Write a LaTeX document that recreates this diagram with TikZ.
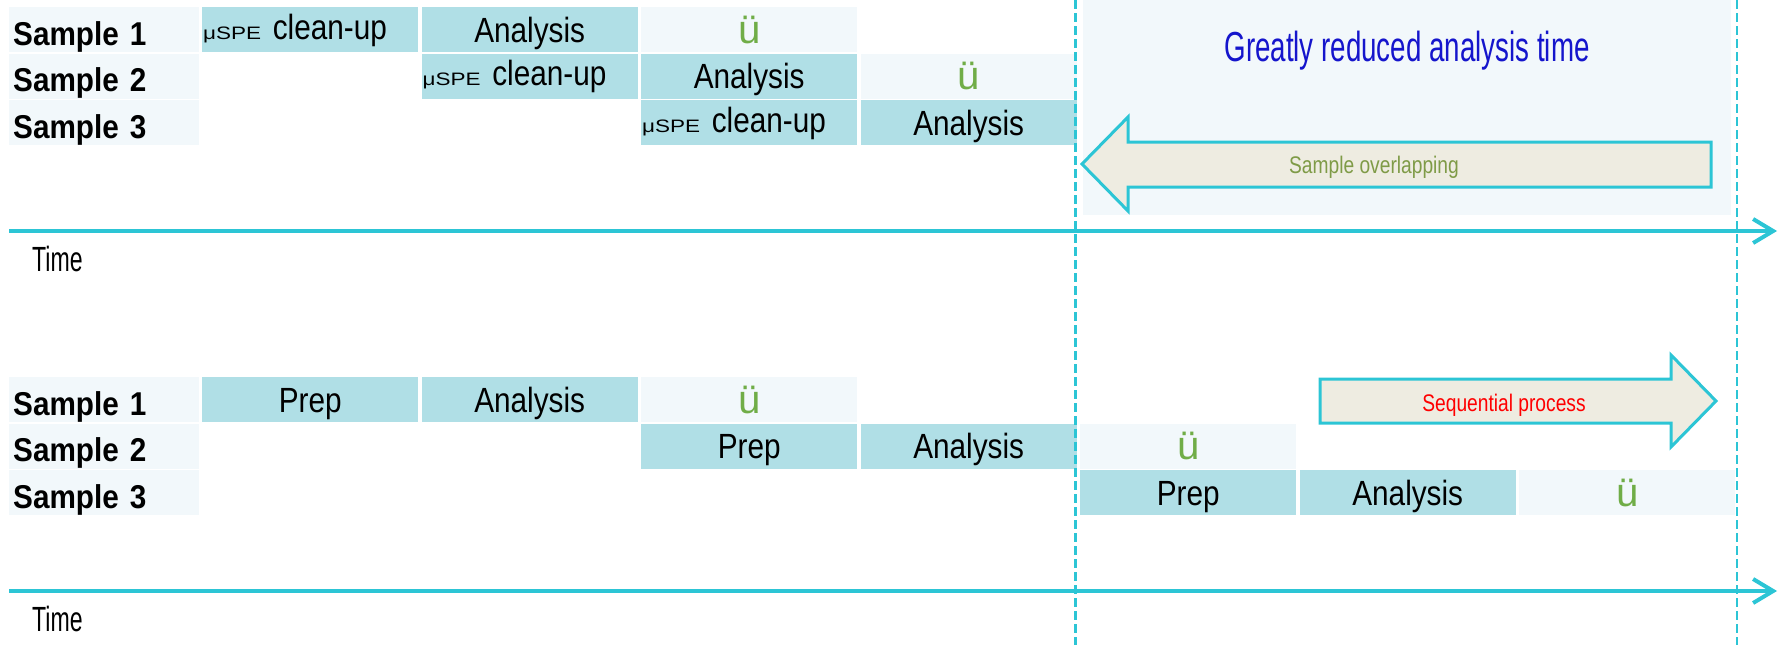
\documentclass[tikz,border=0pt]{standalone}
\usepackage{fontspec}
\setmainfont{Liberation Sans}
\newfontfamily\namefont{Liberation Sans}[FakeStretch=0.9]
\newfontfamily\cellfont{Liberation Sans}[FakeStretch=0.85]
\newfontfamily\narrowfont{Liberation Sans}[FakeStretch=0.8]
\newfontfamily\tightfont{Liberation Sans}[FakeStretch=0.66]
\newfontfamily\spefont{Liberation Sans}[FakeStretch=1.25]
\usetikzlibrary{arrows.meta}
\definecolor{cellblue}{HTML}{B0DFE6}
\definecolor{cellpale}{HTML}{F2F8FB}
\definecolor{linecyan}{HTML}{2CC5D5}
\definecolor{arrowfill}{HTML}{EEECE1}
\definecolor{tickgreen}{HTML}{70AD47}
\definecolor{headblue}{HTML}{1515CC}
\definecolor{olivetext}{HTML}{7F9B47}

\begin{document}
\begin{tikzpicture}[x=1pt,y=-1pt]
	\tikzset{box/.style={anchor=north west,minimum height=45pt,inner sep=0pt,text depth=0pt},
		namebox/.style={box,fill=cellpale,minimum width=190pt,text width=182pt,align=left,inner xsep=4pt,text height=31pt,font=\namefont\bfseries\fontsize{33}{33}\selectfont},
		stepbox/.style={box,fill=cellblue,minimum width=216pt,text height=25pt,font=\cellfont\fontsize{35}{35}\selectfont},
		spebox/.style={stepbox,text width=214pt,align=left,inner xsep=1pt,text height=19pt},
		donebox/.style={box,fill=cellpale,minimum width=216pt,text height=27pt,text=tickgreen,font=\fontsize{40}{40}\selectfont},
		timeaxis/.style={linecyan,line width=4pt,-{Straight Barb[length=20pt,width=24pt]}},
		limit/.style={linecyan,line width=2.5pt,dash pattern=on 9pt off 4pt},
		bigarrow/.style={draw=linecyan,line width=3pt,fill=arrowfill,line join=miter},
		arrowtext/.style={anchor=base,inner sep=0pt,font=\narrowfont\fontsize{24}{24}\selectfont},
		timelabel/.style={anchor=base west,inner sep=0pt,font=\tightfont\fontsize{35}{35}\selectfont}}
	\def\xo{202} \def\pitch{219.5} \def\rowh{46.5}
	\def\ytop{7} \def\ybot{377}
	\useasboundingbox (0,0) rectangle (1785,645);
	% shaded gain panel
	\fill[cellpale] (1083,0) rectangle (1731,215);
	\node[anchor=base,inner sep=0pt,text=headblue,font=\tightfont\fontsize{42}{42}\selectfont] (gain) at (1407,61) {Greatly reduced analysis time};
	% sample names
	\foreach \r in {1,2,3}{
		\node[namebox] (top\r) at (9,{\ytop+(\r-1)*\rowh}) {Sample \r};
		\node[namebox] (bot\r) at (9,{\ybot+(\r-1)*\rowh}) {Sample \r};
	}
	% overlapped run
	\foreach \r/\c in {1/1,2/2,3/3}{
		\node[spebox] (spe\r) at ({\xo+(\c-1)*\pitch},{\ytop+(\r-1)*\rowh}) {{\spefont\fontsize{18}{18}\selectfont μSPE} clean-up};
		\node[stepbox] (ana\r) at ({\xo+\c*\pitch},{\ytop+(\r-1)*\rowh}) {Analysis};
	}
	\node[donebox] (ok1) at ({\xo+2*\pitch},\ytop) {ü};
	\node[donebox] (ok2) at ({\xo+3*\pitch},{\ytop+\rowh}) {ü};
	% sequential run
	\foreach \r/\c in {1/1,2/3,3/5}{
		\node[stepbox] (prep\r) at ({\xo+(\c-1)*\pitch},{\ybot+(\r-1)*\rowh}) {Prep};
		\node[stepbox] (seqana\r) at ({\xo+\c*\pitch},{\ybot+(\r-1)*\rowh}) {Analysis};
		\node[donebox] (seqok\r) at ({\xo+(\c+1)*\pitch},{\ybot+(\r-1)*\rowh}) {ü};
	}
	% block arrows
	\draw[bigarrow] (1082,164) -- (1128,117) -- (1128,142) -- (1711,142) -- (1711,187) -- (1128,187) -- (1128,211) -- cycle;
	\node[arrowtext,text=olivetext] (overlap) at (1374,173) {Sample overlapping};
	\draw[bigarrow] (1716,401) -- (1671,355) -- (1671,379) -- (1320,379) -- (1320,423) -- (1671,423) -- (1671,447) -- cycle;
	\node[arrowtext,text=red] (sequence) at (1504,411) {Sequential process};
	% time axes
	\coordinate (ta) at (9,231); \coordinate (tb) at (1777,231);
	\coordinate (ba) at (9,591); \coordinate (bb) at (1777,591);
	\draw[timeaxis] (ta) -- (tb);
	\draw[timeaxis] (ba) -- (bb);
	\node[timelabel] (time1) at (32,271) {Time};
	\node[timelabel] (time2) at (32,631) {Time};
	% dashed limits
	\coordinate (la) at (1075.5,0); \coordinate (lb) at (1075.5,645);
	\coordinate (ra) at (1737,0); \coordinate (rb) at (1737,645);
	\draw[limit] (la) -- (lb);
	\draw[limit] (ra) -- (rb);
\end{tikzpicture}
\end{document}
